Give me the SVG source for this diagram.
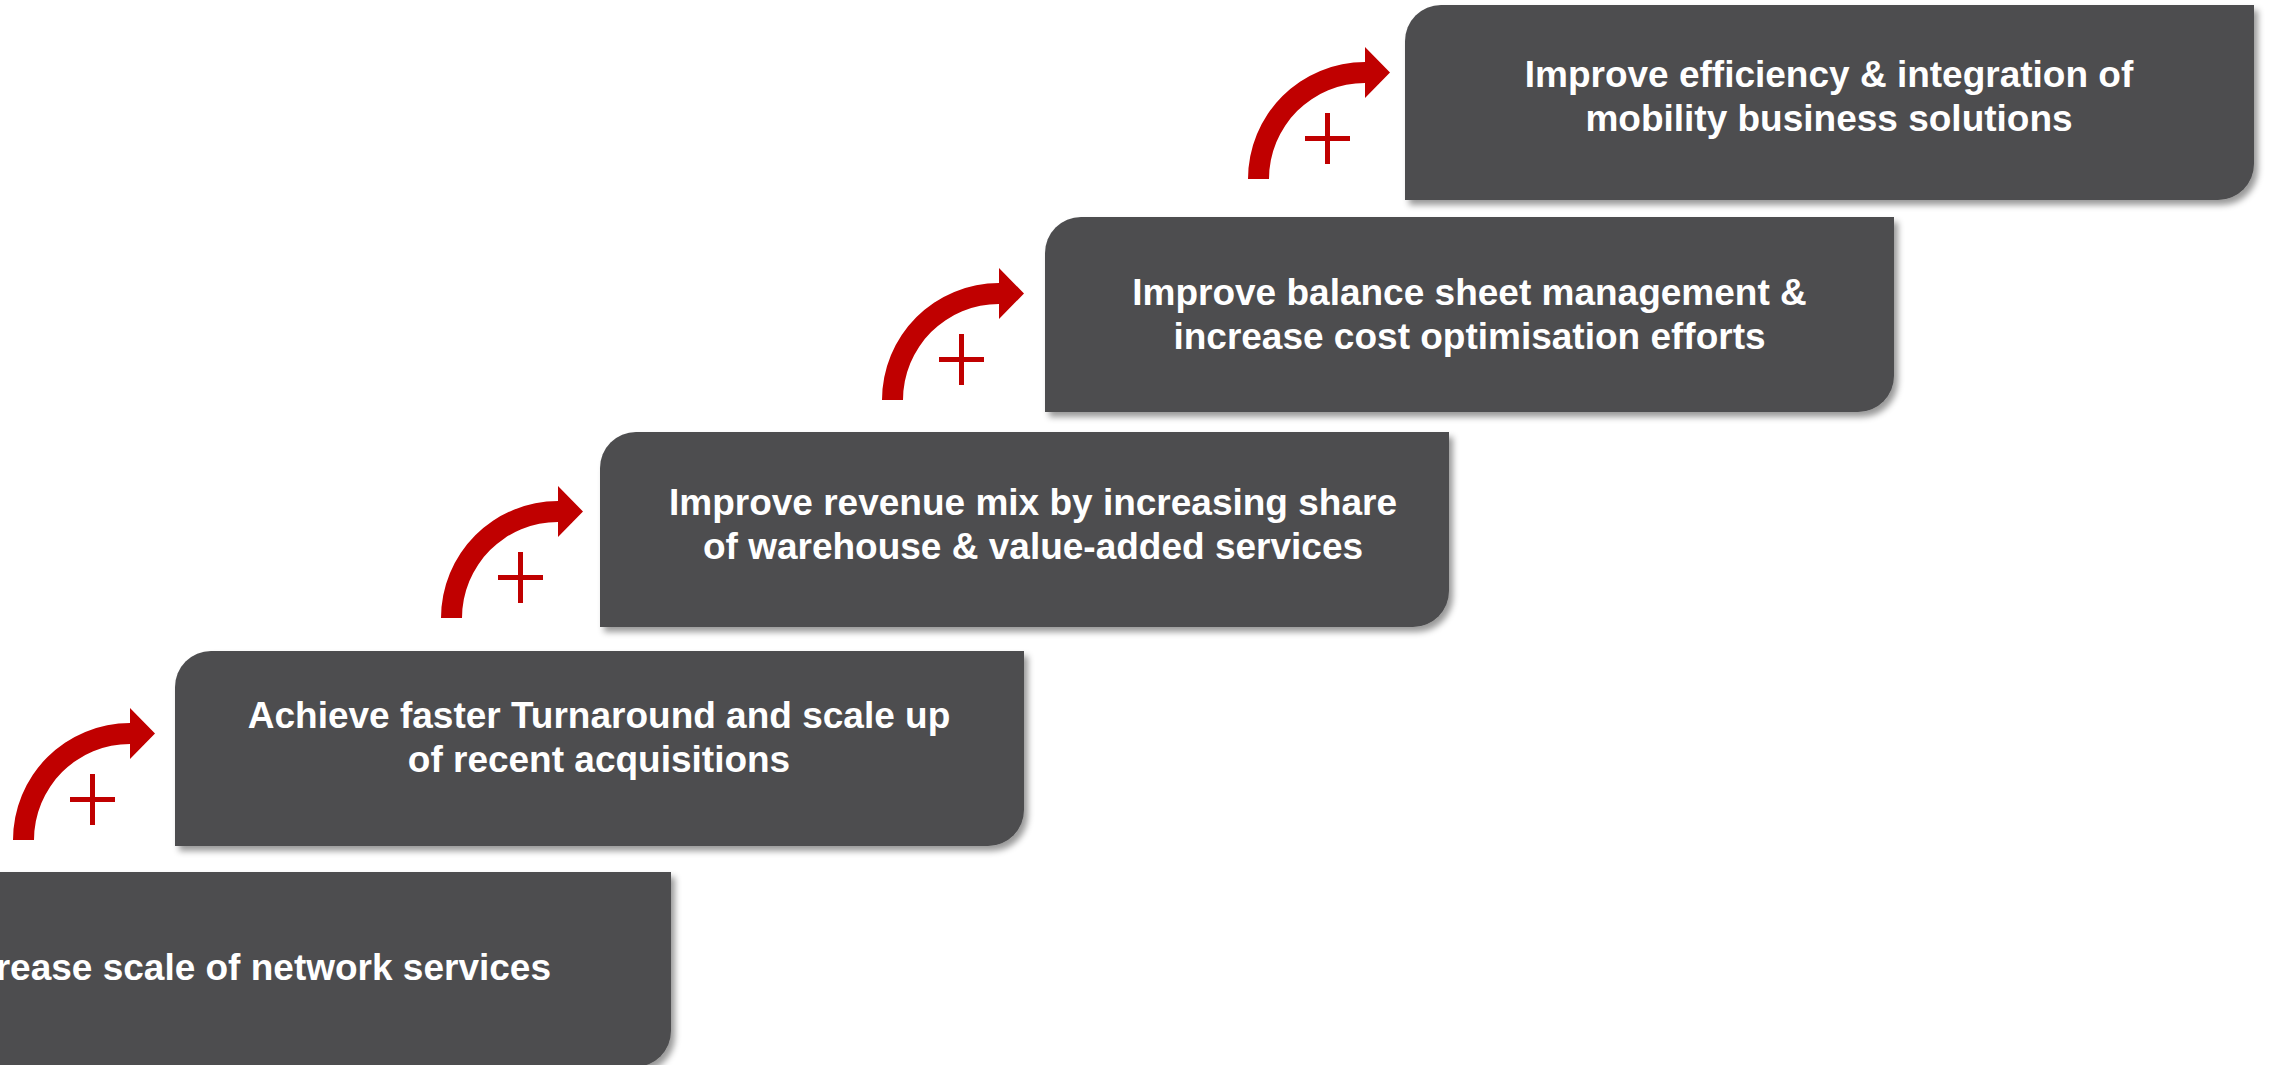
<svg xmlns="http://www.w3.org/2000/svg" xmlns:xlink="http://www.w3.org/1999/xlink" width="2272" height="1065" viewBox="0 0 2272 1065">
  <style>
    .step { fill: #4D4D4F; filter: url(#shadow); }
    .label { font-family: "Liberation Sans", Arial, sans-serif; font-weight: bold; font-size: 37px; fill: #FFFFFF; text-anchor: middle; }
    .turn { fill: #C00000; }
    .plus { stroke: #C00000; stroke-width: 5; fill: none; }
  </style>
  <defs>
    <filter id="shadow" x="-5%" y="-10%" width="115%" height="130%">
      <feDropShadow dx="4" dy="5" stdDeviation="3" flood-color="#000000" flood-opacity="0.4"/>
    </filter>
    <!-- step box 849x195 with rounded top-left and bottom-right corners -->
    <path id="stepShape" d="M0,36 A36,36 0 0 1 36,0 L849,0 L849,159 A36,36 0 0 1 813,195 L0,195 Z"/>
    <!-- curved arrow, origin at the arc centre -->
    <path id="turnArrow" d="M-117,0 A117,117 0 0 1 0,-117 L0,-132 L25,-106.5 L0,-81 L0,-96 A96,96 0 0 0 -96,0 Z"/>
    <path id="plusSign" d="M-60,-40.5 L-15,-40.5 M-37.5,-66 L-37.5,-15"/>
  </defs>

  <g id="arrows">
    <g id="arrow-1" transform="translate(1365,179)">
      <use xlink:href="#turnArrow" class="turn"/>
      <use xlink:href="#plusSign" class="plus"/>
    </g>
    <g id="arrow-2" transform="translate(999,400)">
      <use xlink:href="#turnArrow" class="turn"/>
      <use xlink:href="#plusSign" class="plus"/>
    </g>
    <g id="arrow-3" transform="translate(558,618)">
      <use xlink:href="#turnArrow" class="turn"/>
      <use xlink:href="#plusSign" class="plus"/>
    </g>
    <g id="arrow-4" transform="translate(130,840)">
      <use xlink:href="#turnArrow" class="turn"/>
      <use xlink:href="#plusSign" class="plus"/>
    </g>
  </g>

  <g id="step-5">
    <use xlink:href="#stepShape" class="step" transform="translate(-178,872)"/>
    <text class="label" x="551" y="980" style="text-anchor:end">rease scale of network services</text>
  </g>

  <g id="step-4">
    <use xlink:href="#stepShape" class="step" transform="translate(175,651)"/>
    <text class="label" x="599" y="728">Achieve faster Turnaround and scale up</text>
    <text class="label" x="599" y="772">of recent acquisitions</text>
  </g>

  <g id="step-3">
    <use xlink:href="#stepShape" class="step" transform="translate(600,432)"/>
    <text class="label" x="1033" y="515">Improve revenue mix by increasing share</text>
    <text class="label" x="1033" y="559">of warehouse &amp; value-added services</text>
  </g>

  <g id="step-2">
    <use xlink:href="#stepShape" class="step" transform="translate(1045,217)"/>
    <text class="label" x="1469.5" y="305">Improve balance sheet management &amp;</text>
    <text class="label" x="1469.5" y="349">increase cost optimisation efforts</text>
  </g>

  <g id="step-1">
    <use xlink:href="#stepShape" class="step" transform="translate(1405,5)"/>
    <text class="label" x="1829" y="87">Improve efficiency &amp; integration of</text>
    <text class="label" x="1829" y="131">mobility business solutions</text>
  </g>
</svg>
